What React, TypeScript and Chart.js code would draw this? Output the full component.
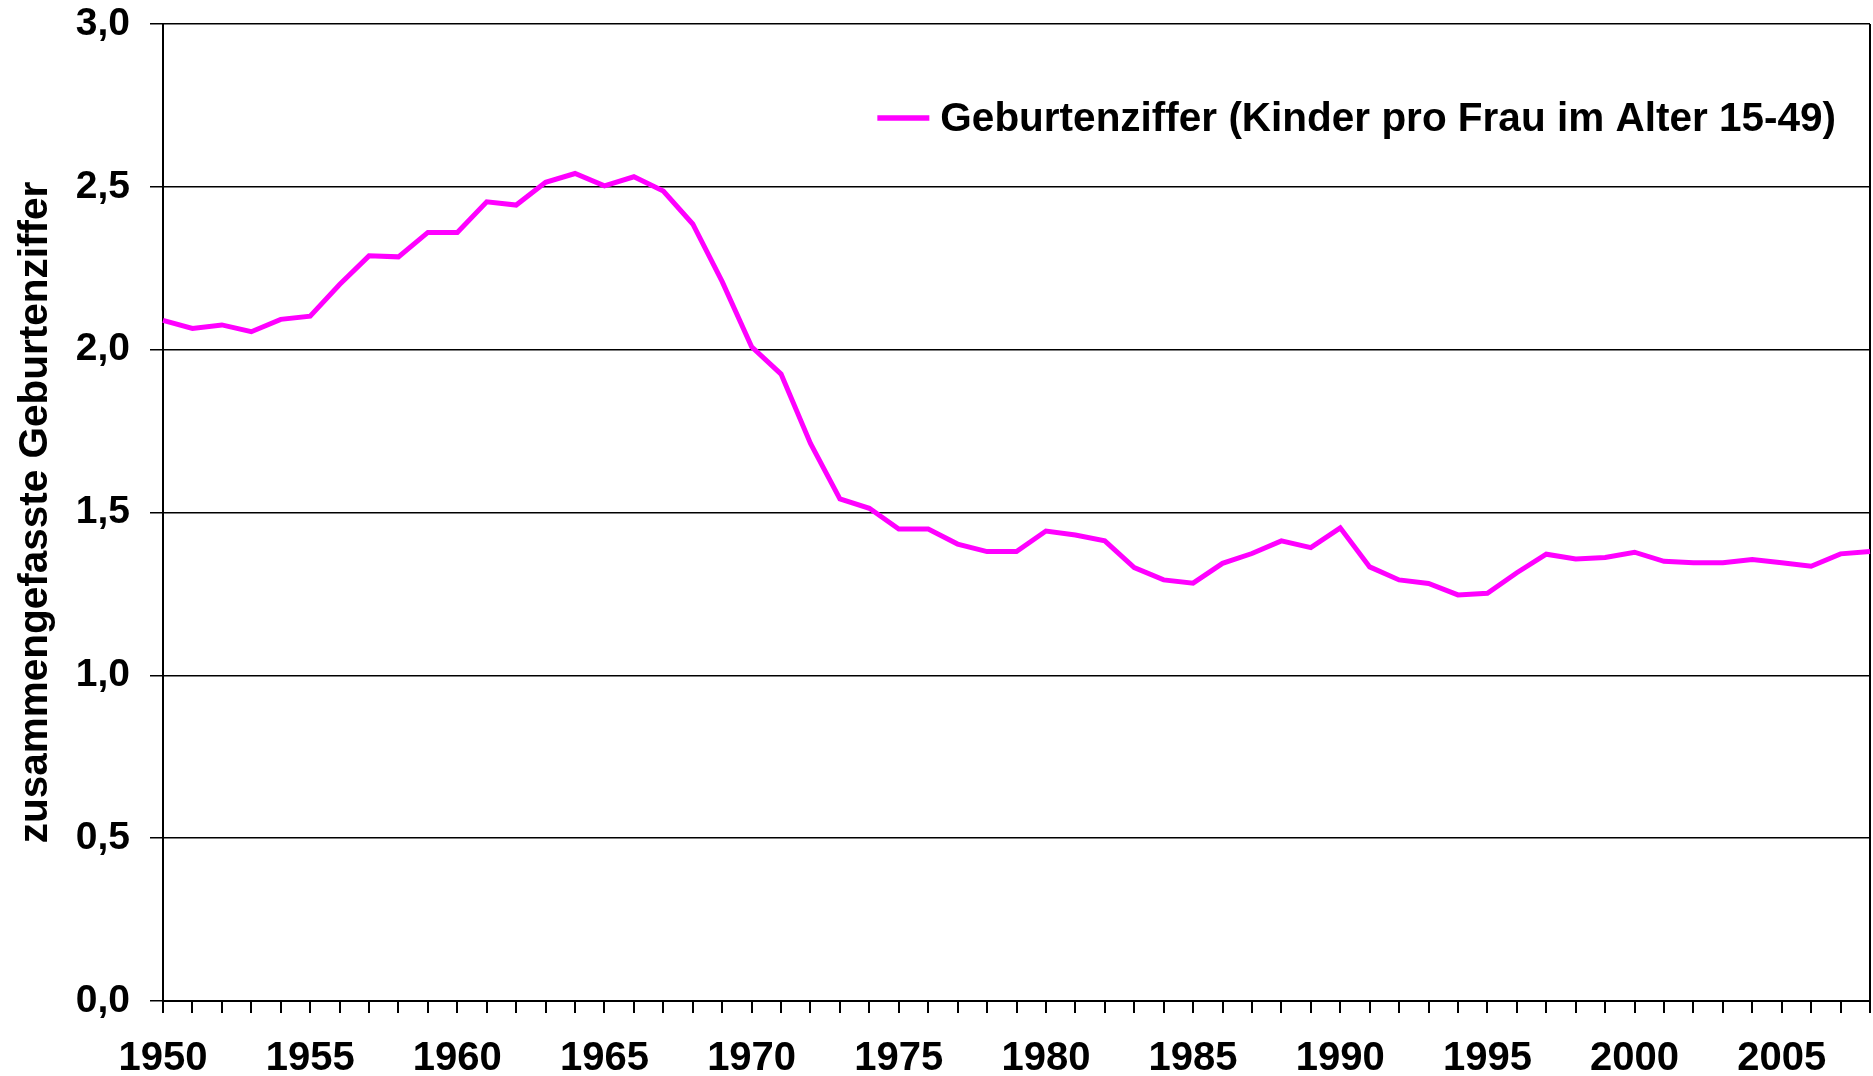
import React, { useEffect, useRef } from 'react';
import { Chart, registerables } from 'chart.js';

Chart.register(...registerables);

const years: string[] = [
  '1950', '1951', '1952', '1953', '1954', '1955', '1956', '1957', '1958', '1959',
  '1960', '1961', '1962', '1963', '1964', '1965', '1966', '1967', '1968', '1969',
  '1970', '1971', '1972', '1973', '1974', '1975', '1976', '1977', '1978', '1979',
  '1980', '1981', '1982', '1983', '1984', '1985', '1986', '1987', '1988', '1989',
  '1990', '1991', '1992', '1993', '1994', '1995', '1996', '1997', '1998', '1999',
  '2000', '2001', '2002', '2003', '2004', '2005', '2006', '2007', '2008',
];

const birthRate: number[] = [
  2.09, 2.065, 2.076, 2.055, 2.093, 2.103, 2.2, 2.288, 2.285, 2.36,
  2.36, 2.454, 2.444, 2.514, 2.541, 2.503, 2.531, 2.487, 2.386, 2.209,
  2.009, 1.925, 1.712, 1.542, 1.513, 1.449, 1.449, 1.403, 1.38, 1.38,
  1.443, 1.431, 1.413, 1.331, 1.293, 1.283, 1.344, 1.374, 1.413, 1.392,
  1.453, 1.333, 1.293, 1.282, 1.247, 1.252, 1.315, 1.372, 1.357, 1.362,
  1.378, 1.35, 1.346, 1.346, 1.356, 1.346, 1.335, 1.373, 1.38,
];

const xTickLabels: string[] = ['1950', '1955', '1960', '1965', '1970', '1975', '1980', '1985', '1990', '1995', '2000', '2005'];

const seriesLabel = 'Geburtenziffer (Kinder pro Frau im Alter 15-49)';
const yAxisTitle = 'zusammengefasste Geburtenziffer';

const FONT = '"Liberation Sans", Arial, Helvetica, sans-serif';
const LINE_COLOR = '#FF00FF';

const legendPlugin = {
  id: 'insideLegend',
  afterDraw(chart: any) {
    const { ctx, chartArea } = chart;
    const ds = chart.data.datasets[0];
    ctx.save();
    ctx.font = `bold 40.5px ${FONT}`;
    const text = ds.label as string;
    const w = ctx.measureText(text).width;
    const textRight = chartArea.right - 34;
    const textLeft = textRight - w;
    const y = chartArea.top + 96;
    ctx.strokeStyle = ds.borderColor;
    ctx.lineWidth = 5.5;
    ctx.lineCap = 'butt';
    ctx.beginPath();
    ctx.moveTo(textLeft - 63, y - 2);
    ctx.lineTo(textLeft - 11, y - 2);
    ctx.stroke();
    ctx.fillStyle = '#000';
    ctx.textBaseline = 'middle';
    ctx.textAlign = 'left';
    ctx.fillText(text, textLeft, y);
    ctx.restore();
  },
};

export default function App() {
  const canvasRef = useRef<HTMLCanvasElement | null>(null);

  useEffect(() => {
    if (!canvasRef.current) return;
    const lastIndex = years.length - 1;
    const chart = new Chart(canvasRef.current, {
      type: 'line',
      data: {
        labels: years,
        datasets: [
          {
            label: seriesLabel,
            data: birthRate,
            borderColor: LINE_COLOR,
            backgroundColor: LINE_COLOR,
            borderWidth: 5,
            pointRadius: 0,
            pointHoverRadius: 0,
            tension: 0,
            fill: false,
            borderJoinStyle: 'miter',
          },
        ],
      },
      options: {
        responsive: false,
        animation: false,
        layout: { padding: { top: 24, right: 3, bottom: 0, left: 0 } },
        plugins: {
          legend: { display: false },
          tooltip: { enabled: false },
          title: { display: false },
        },
        scales: {
          x: {
            type: 'category',
            offset: false,
            grid: {
              display: true,
              drawOnChartArea: true,
              drawTicks: true,
              tickLength: 12,
              lineWidth: 2,
              color: (c: any) => (c.index === lastIndex ? '#000' : 'rgba(0,0,0,0)'),
              tickColor: '#000',
            },
            border: { display: true, color: '#000', width: 2 },
            ticks: {
              autoSkip: false,
              maxRotation: 0,
              minRotation: 0,
              padding: 22,
              color: '#000',
              font: { family: FONT, size: 40, weight: 'bold' },
              callback: (_v: any, i: number) => (xTickLabels.includes(years[i]) ? years[i] : ''),
            },
            afterFit: (scale: any) => {
              scale.height = 75;
              scale.paddingLeft = 0;
              scale.paddingRight = 0;
            },
          },
          y: {
            min: 0,
            max: 3,
            grid: {
              color: '#000',
              lineWidth: 1.5,
              tickLength: 13,
              drawTicks: true,
              tickColor: '#000',
            },
            border: { display: true, color: '#000', width: 2 },
            ticks: {
              stepSize: 0.5,
              padding: 20,
              color: '#000',
              font: { family: FONT, size: 39, weight: 'bold' },
              callback: (v: any) => Number(v).toFixed(1).replace('.', ','),
            },
            title: {
              display: true,
              text: yAxisTitle,
              color: '#000',
              font: { family: FONT, size: 40.5, weight: 'bold' },
              padding: { top: 12, bottom: 0 },
            },
            afterFit: (scale: any) => {
              scale.width = 163;
              scale.paddingTop = 0;
              scale.paddingBottom = 0;
            },
          },
        },
      },
      plugins: [legendPlugin],
    });
    return () => chart.destroy();
  }, []);

  return (
    <div style={{ position: 'fixed', left: 0, top: 0, width: '1873px', height: '1076px', background: '#fff' }}>
      <canvas ref={canvasRef} width={1873} height={1076} style={{ display: 'block' }} />
    </div>
  );
}
